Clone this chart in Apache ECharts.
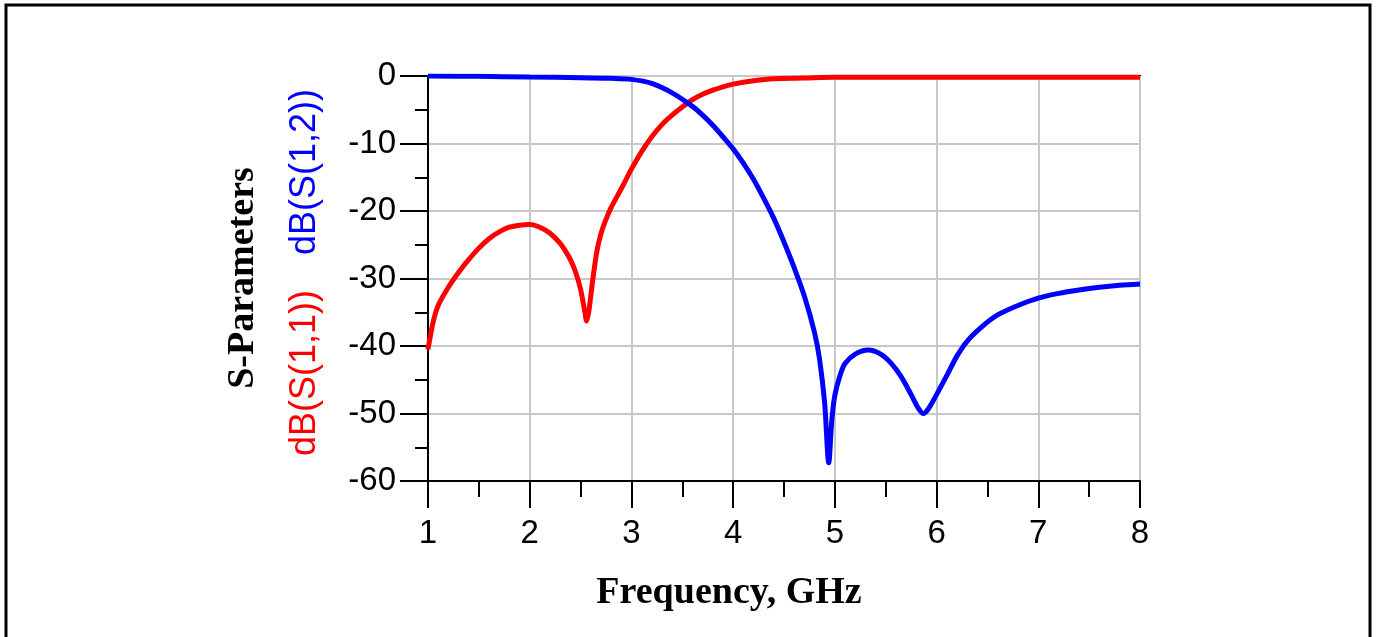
<!DOCTYPE html>
<html>
<head>
<meta charset="utf-8">
<title>S-Parameters</title>
<script src="https://cdn.jsdelivr.net/npm/echarts@6/dist/echarts.min.js"></script>
<style>
  html, body { margin: 0; padding: 0; background: #fff; }
  #chart { width: 1377px; height: 637px; }
</style>
</head>
<body>
<div id="chart"></div>
<script>
// frequency (GHz) and dB values
var s11Freq = [1.0, 1.05, 1.1, 1.2, 1.3, 1.4, 1.5, 1.6, 1.7, 1.8, 1.9, 2.0, 2.1, 2.2, 2.3, 2.35, 2.4, 2.45, 2.5, 2.54, 2.56,
               2.58, 2.62, 2.66, 2.7, 2.74, 2.8, 2.9, 3.0, 3.1, 3.2, 3.3, 3.4, 3.5, 3.6, 3.7, 3.8, 3.9, 4.0, 4.2, 4.4,
               4.7, 5.0, 6.0, 7.0, 8.0];
var s11dB = [-40.5, -36.5, -34, -31.3, -29.1, -27.2, -25.5, -24.1, -23.1, -22.4, -22.1, -22.0, -22.4, -23.3, -24.8, -25.9, -27.2, -29.0, -31.6, -34.8, -36.3,
             -35, -30.2, -26, -23.4, -21.6, -19.5, -16.7, -13.8, -11.2, -9.0, -7.2, -5.8, -4.6, -3.5, -2.7, -2.1, -1.6, -1.2, -0.7, -0.4,
             -0.3, -0.2, -0.2, -0.2, -0.2];

var s12Freq = [1.0, 1.5, 2.0, 2.5, 2.8, 3.0, 3.2, 3.4, 3.6, 3.7, 3.8, 3.9, 4.0, 4.1, 4.2, 4.3, 4.4, 4.5, 4.6, 4.7,
               4.8, 4.85, 4.9, 4.94, 4.97, 5.0, 5.05, 5.1, 5.2, 5.33, 5.45, 5.55, 5.65, 5.75, 5.82, 5.87, 5.92, 6.0, 6.1, 6.2,
               6.3, 6.45, 6.6, 6.8, 7.0, 7.2, 7.4, 7.6, 7.8, 8.0];
var s12dB = [0, -0.05, -0.15, -0.25, -0.35, -0.5, -1.1, -2.5, -4.5, -5.8, -7.3, -9.0, -10.8, -12.9, -15.3, -18.1, -21.1, -24.6, -28.4, -32.6,
             -38, -42, -48.5, -57.3, -51, -47.3, -44.4, -42.6, -41.2, -40.6, -41.2, -42.5, -44.5, -47.2, -49.2, -50, -49.3, -47.2, -44.4, -41.5,
             -39.3, -37.1, -35.4, -34, -32.9, -32.2, -31.7, -31.3, -31.0, -30.8];

var xTicks = [1, 8, 1];     // min, max, interval
var yTicks = [-60, 0, 10];

function pairs(xs, ys) {
    var out = [];
    for (var i = 0; i < xs.length; i++) out.push([xs[i], ys[i]]);
    return out;
}

var chart = echarts.init(document.getElementById('chart'));

var option = {
    animation: false,
    backgroundColor: '#fff',
    grid: {
        left: 428,
        right: 237,
        top: 76,
        bottom: 156,
        show: true,
        borderColor: '#000',
        borderWidth: 2
    },
    xAxis: {
        type: 'value',
        min: xTicks[0],
        max: xTicks[1],
        interval: xTicks[2],
        axisLine: { onZero: false, lineStyle: { color: '#000', width: 2 } },
        axisTick: { length: 27, lineStyle: { color: '#000', width: 2 } },
        minorTick: { show: true, splitNumber: 2, length: 16, lineStyle: { color: '#000', width: 2 } },
        axisLabel: {
            margin: 36,
            fontFamily: 'Liberation Sans',
            fontSize: 33,
            color: '#000'
        },
        splitLine: { lineStyle: { color: '#c8c8c8', width: 2 } }
    },
    yAxis: {
        type: 'value',
        min: yTicks[0],
        max: yTicks[1],
        interval: yTicks[2],
        axisLine: { show: true, onZero: false, lineStyle: { color: '#000', width: 2 } },
        axisTick: { show: true, length: 28, lineStyle: { color: '#000', width: 2 } },
        minorTick: { show: true, splitNumber: 2, length: 13, lineStyle: { color: '#000', width: 2 } },
        axisLabel: {
            margin: 32,
            fontFamily: 'Liberation Sans',
            fontSize: 33,
            color: '#000'
        },
        splitLine: { lineStyle: { color: '#c8c8c8', width: 2 } }
    },
    graphic: [
        {
            type: 'rect',
            shape: { x: 6, y: 5, width: 1364, height: 700 },
            style: { fill: 'none', stroke: '#000', lineWidth: 3 },
            silent: true
        },
        {
            type: 'text',
            x: 729, y: 593,
            style: {
                text: 'Frequency, GHz',
                fill: '#000',
                font: 'bold 38px "Liberation Serif"',
                textAlign: 'center',
                textVerticalAlign: 'middle'
            }
        },
        {
            type: 'text',
            x: 243, y: 278,
            rotation: Math.PI / 2,
            style: {
                text: 'S-Parameters',
                fill: '#000',
                font: 'bold 38px "Liberation Serif"',
                textAlign: 'center',
                textVerticalAlign: 'middle'
            }
        },
        {
            type: 'text',
            x: 305, y: 456,
            rotation: Math.PI / 2,
            style: {
                text: 'dB(S(1,1))',
                fill: '#ff0000',
                font: '36px "Liberation Sans"',
                textAlign: 'left',
                textVerticalAlign: 'middle'
            }
        },
        {
            type: 'text',
            x: 305, y: 89,
            rotation: Math.PI / 2,
            style: {
                text: 'dB(S(1,2))',
                fill: '#0000ff',
                font: '36px "Liberation Sans"',
                textAlign: 'right',
                textVerticalAlign: 'middle'
            }
        }
    ],
    series: [
        {
            name: 'dB(S(1,1))',
            type: 'line',
            data: pairs(s11Freq, s11dB),
            showSymbol: false,
            smooth: 0.3,
            lineStyle: { color: '#ff0000', width: 5 },
            itemStyle: { color: '#ff0000' },
            z: 3
        },
        {
            name: 'dB(S(1,2))',
            type: 'line',
            data: pairs(s12Freq, s12dB),
            showSymbol: false,
            smooth: 0.3,
            lineStyle: { color: '#0000ff', width: 5 },
            itemStyle: { color: '#0000ff' },
            z: 4
        }
    ]
};

chart.setOption(option);
</script>
</body>
</html>
